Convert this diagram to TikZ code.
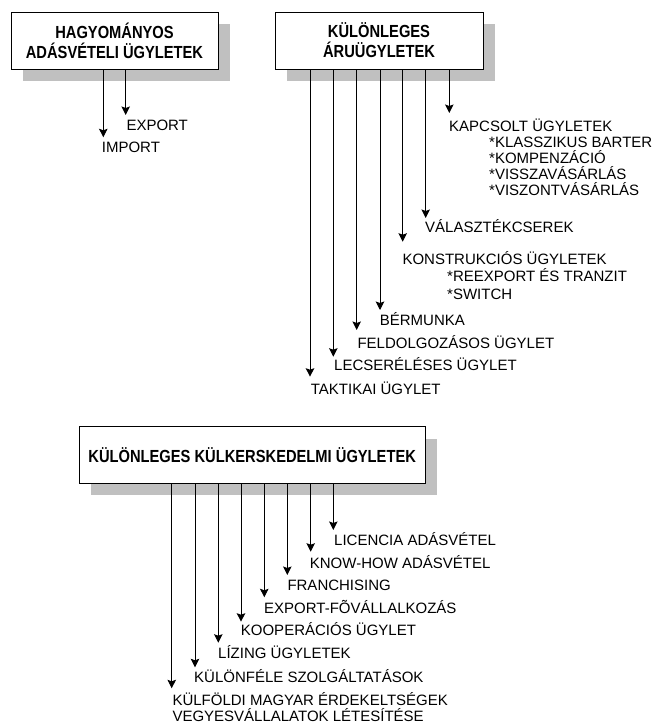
\documentclass[tikz,border=0pt]{standalone}
\usepackage{fontspec}
\setmainfont{Liberation Sans}
\newfontfamily\hdrfont[FakeStretch=0.84]{Liberation Sans}
\usetikzlibrary{arrows.meta,shadows}
\definecolor{shgray}{RGB}{192,192,192}
\begin{document}
\begin{tikzpicture}[x=1pt,y=-1pt,
  hdr/.style={draw=black, line width=0.8pt, fill=white, align=center, inner sep=0pt,
    font=\hdrfont\bfseries\fontsize{17.5}{20}\selectfont,
    drop shadow={shadow xshift=11.5pt, shadow yshift=-12pt, fill=shgray, opacity=1}},
  lbl/.style={anchor=base west, inner sep=0pt, font=\fontsize{15}{16}\selectfont},
  arr/.style={line width=0.9pt, -{Stealth[length=8.5pt,width=8.5pt,inset=1.5pt]}}]
\useasboundingbox (0,0) rectangle (663,726);
% boxes
\node[hdr, minimum width=207pt, minimum height=57pt] (b1) at (114.5,40.5) {HAGYOMÁNYOS\\ADÁSVÉTELI ÜGYLETEK};
\node[hdr, minimum width=208pt, minimum height=57pt] (b2) at (379,40.5) {KÜLÖNLEGES\\ÁRUÜGYLETEK};
\node[hdr, minimum width=345.7pt, minimum height=56.6pt] (b3) at (252.2,455) {KÜLÖNLEGES KÜLKERSKEDELMI ÜGYLETEK};
% tips, box 1
\coordinate (tImp) at (103.3,137.3);
\coordinate (tExp) at (125.7,115);
% tips, box 2
\coordinate (tTak) at (310,376.7);
\coordinate (tLec) at (333.3,356.7);
\coordinate (tFel) at (356.7,330);
\coordinate (tBer) at (380,310);
\coordinate (tKon) at (402.7,241.7);
\coordinate (tVal) at (425.7,218);
\coordinate (tKap) at (449.3,113);
% tips, box 3
\coordinate (tKulf) at (171.7,688.3);
\coordinate (tKulo) at (195,667.3);
\coordinate (tLiz) at (218.3,642.7);
\coordinate (tKoo) at (241,621.7);
\coordinate (tExf) at (264.3,597.3);
\coordinate (tFra) at (287.3,575);
\coordinate (tKno) at (310.7,551.7);
\coordinate (tLic) at (333.3,530);
% arrows
\foreach \t in {tImp,tExp} \draw[arr] (b1.south -| \t) -- (\t);
\foreach \t in {tTak,tLec,tFel,tBer,tKon,tVal,tKap} \draw[arr] (b2.south -| \t) -- (\t);
\foreach \t in {tKulf,tKulo,tLiz,tKoo,tExf,tFra,tKno,tLic} \draw[arr] (b3.south -| \t) -- (\t);
% labels box 1
\node[lbl] (lExp) at (126.3,130) {EXPORT};
\node[lbl] (lImp) at (101.7,152) {IMPORT};
% labels box 2
\node[lbl] (lKap) at (449,131) {KAPCSOLT ÜGYLETEK};
\node[lbl] (lKap1) at (489,147) {*KLASSZIKUS BARTER};
\node[lbl] (lKap2) at (489,163) {*KOMPENZÁCIÓ};
\node[lbl] (lKap3) at (489,179) {*VISSZAVÁSÁRLÁS};
\node[lbl] (lKap4) at (489,195) {*VISZONTVÁSÁRLÁS};
\node[lbl] (lVal) at (425,232) {VÁLASZTÉKCSEREK};
\node[lbl] (lKon) at (402.3,264) {KONSTRUKCIÓS ÜGYLETEK};
\node[lbl] (lKon1) at (447,281.5) {*REEXPORT ÉS TRANZIT};
\node[lbl] (lKon2) at (447,299) {*SWITCH};
\node[lbl] (lBer) at (379.7,325) {BÉRMUNKA};
\node[lbl] (lFel) at (357.3,348) {FELDOLGOZÁSOS ÜGYLET};
\node[lbl] (lLec) at (334,370.5) {LECSERÉLÉSES ÜGYLET};
\node[lbl] (lTak) at (310.7,394) {TAKTIKAI ÜGYLET};
% labels box 3
\node[lbl] (lLic) at (334,545.5) {LICENCIA ADÁSVÉTEL};
\node[lbl] (lKno) at (309.7,568) {KNOW-HOW ADÁSVÉTEL};
\node[lbl] (lFra) at (287.3,590.5) {FRANCHISING};
\node[lbl] (lExf) at (264,613.7) {EXPORT-FÕVÁLLALKOZÁS};
\node[lbl] (lKoo) at (240.7,635.5) {KOOPERÁCIÓS ÜGYLET};
\node[lbl] (lLiz) at (218,658.7) {LÍZING ÜGYLETEK};
\node[lbl] (lKulo) at (194,682) {KÜLÖNFÉLE SZOLGÁLTATÁSOK};
\node[lbl] (lKulf) at (172.3,705.5) {KÜLFÖLDI MAGYAR ÉRDEKELTSÉGEK};
\node[lbl] (lVeg) at (172.3,721) {VEGYESVÁLLALATOK LÉTESÍTÉSE};
\end{tikzpicture}
\end{document}
